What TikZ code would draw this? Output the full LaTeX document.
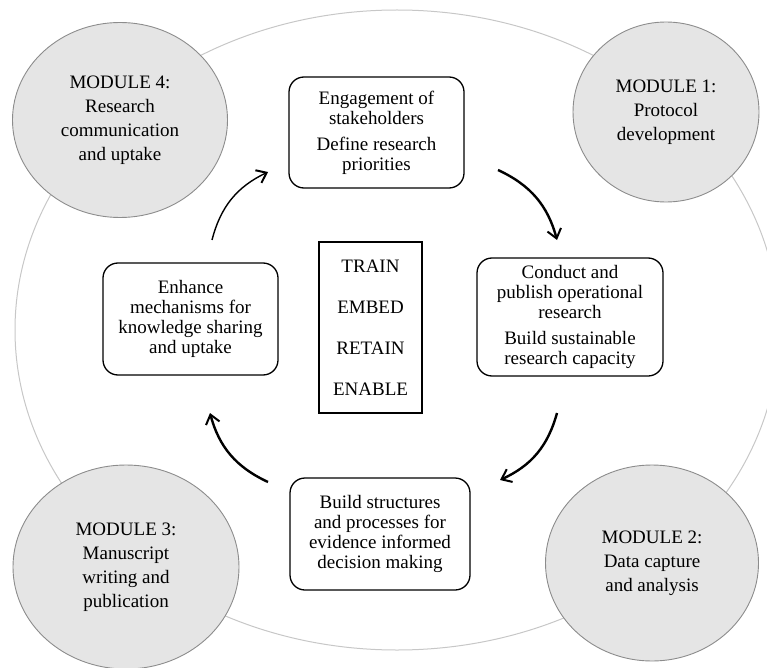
\documentclass[tikz,border=0pt]{standalone}
\usepackage{fontspec}
\setmainfont{Liberation Serif}
\usetikzlibrary{arrows.meta, shapes.geometric, positioning}

\begin{document}
\begin{tikzpicture}[
    x=1pt, y=-1pt,
    module/.style={ellipse, draw=black!45, fill=black!10, line width=0.9pt, inner sep=0pt,
        align=center, font=\fontsize{19}{24}\selectfont},
    stage/.style={rectangle, rounded corners=15pt, draw=black, line width=1.3pt, fill=white,
        align=center, inner sep=1pt, font=\fontsize{19}{20}\selectfont},
    core/.style={rectangle, draw=black, line width=1.3pt, fill=white,
        align=center, font=\fontsize{19}{20}\selectfont},
    cycle/.style={draw=black, line width=2.4pt, bend left=25,
        -{Straight Barb[length=9pt, width=14pt, line width=2pt]}}
]
\useasboundingbox (0,0) rectangle (767,668);

%=== Outer ring, cut by the page ===
\begin{scope}
    \clip (0,0) rectangle (767,668);
    \draw[black!22, line width=1pt] (397,330) ellipse [x radius=382, y radius=320];
\end{scope}

%=== Modules ===
\node[module, minimum width=215, minimum height=195] (mod4) at (120,120) {MODULE 4:\\Research\\communication\\and uptake};
\node[module, minimum width=186, minimum height=180] (mod1) at (666,112) {MODULE 1:\\Protocol\\development};
\node[module, minimum width=226, minimum height=204] (mod3) at (126,567) {MODULE 3:\\Manuscript\\writing and\\publication};
\node[module, minimum width=213, minimum height=196] (mod2) at (652,563) {MODULE 2:\\Data capture\\and analysis};

%=== Stages of the cycle ===
\node[stage, minimum width=175, minimum height=111] (engage) at (376.5,132.5)
    {Engagement of\\stakeholders\\[6pt]Define research\\priorities};
\node[stage, minimum width=186, minimum height=118] (conduct) at (570,317)
    {Conduct and\\publish operational\\research\\[6pt]Build sustainable\\research capacity};
\node[stage, minimum width=180, minimum height=112] (build) at (380,534)
    {Build structures\\and processes for\\evidence informed\\decision making};
\node[stage, minimum width=175, minimum height=112] (enhance) at (190.5,319)
    {Enhance\\mechanisms for\\knowledge sharing\\and uptake};

% centre box
\node[core, minimum width=103, minimum height=171] (core) at (370.5,327.5)
    {TRAIN\\[21pt]EMBED\\[21pt]RETAIN\\[21pt]ENABLE};

%=== Arrows round the cycle ===
\coordinate (a1s) at (212,240);
\coordinate (a1e) at (268,172);
\coordinate (a2s) at (498,170);
\coordinate (a2e) at (557,240);
\coordinate (a3s) at (557,413);
\coordinate (a3e) at (500,480);
\coordinate (a4s) at (268,482);
\coordinate (a4e) at (210,413);

\draw[cycle, line width=1.4pt] (a1s) to (a1e);
\draw[cycle] (a2s) to (a2e);
\draw[cycle] (a3s) to (a3e);
\draw[cycle] (a4s) to (a4e);

\end{tikzpicture}
\end{document}
